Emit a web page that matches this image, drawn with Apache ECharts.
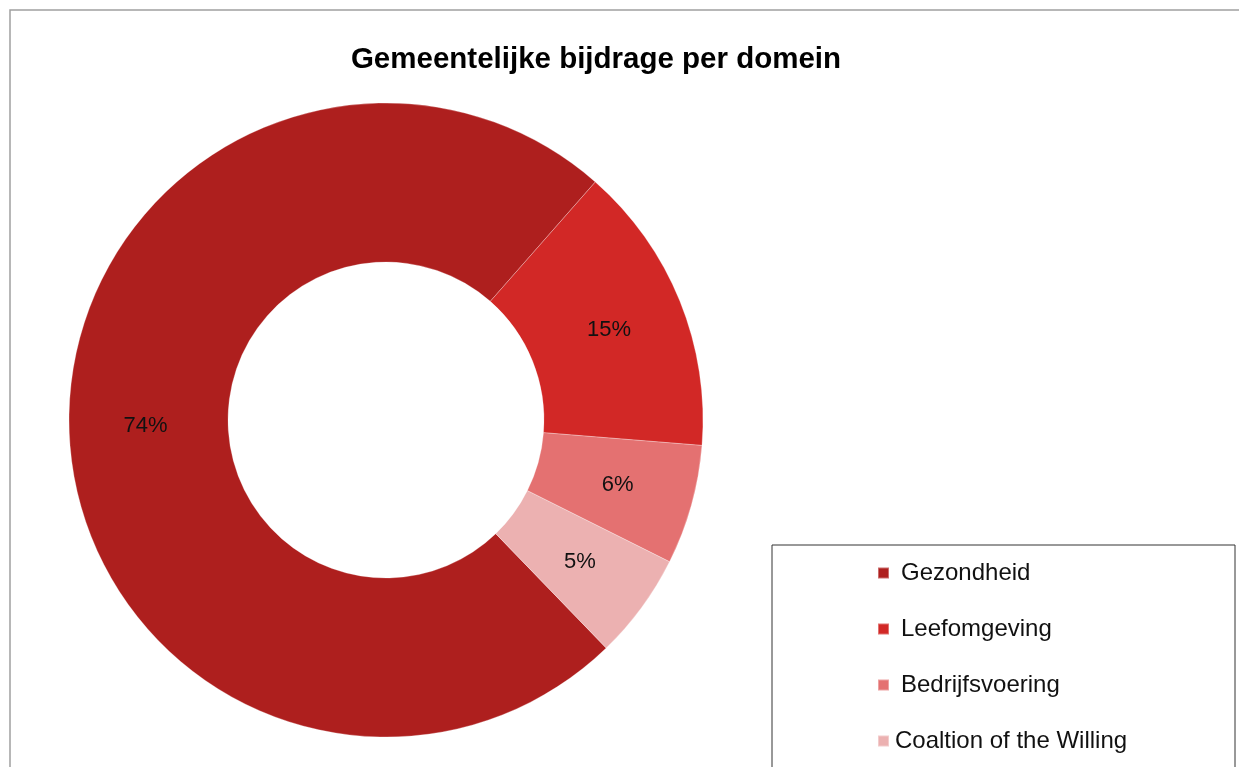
<!DOCTYPE html>
<html>
<head>
<meta charset="utf-8">
<title>Gemeentelijke bijdrage per domein</title>
<script src="https://cdn.jsdelivr.net/npm/echarts@6/dist/echarts.min.js"></script>
<style>
  html, body { margin: 0; padding: 0; background: #fff; }
  #chart { width: 1239px; height: 767px; }
</style>
</head>
<body>
<div id="chart"></div>
<script>
// Data
const domains = ['Gezondheid', 'Leefomgeving', 'Bedrijfsvoering', 'Coaltion of the Willing'];
const shares = [73.7, 14.8, 6.1, 5.4];
const colors = ['#ae1f1e', '#d22826', '#e47171', '#ecb1b1'];
const titleText = 'Gemeentelijke bijdrage per domein';

const chart = echarts.init(document.getElementById('chart'));
const total = shares.reduce((a, b) => a + b, 0);

chart.setOption({
  animation: false,
  backgroundColor: '#fff',
  title: {
    text: titleText,
    left: 591,
    top: 40,
    textAlign: 'center',
    textStyle: { fontFamily: 'Liberation Sans, Arial, sans-serif', fontSize: 29.5, fontWeight: 'bold', color: '#000' }
  },
  legend: {
    orient: 'vertical',
    left: 877,
    top: 561,
    padding: 0,
    itemWidth: 11,
    itemHeight: 11,
    itemGap: 32,
    icon: 'rect',
    textStyle: { fontFamily: 'Liberation Sans, Arial, sans-serif', fontSize: 24, color: '#111', lineHeight: 24 },
    data: domains.map((d, i) => ({
      name: d,
      textStyle: { padding: [0, 0, 0, i === domains.length - 1 ? 1 : 7] }
    }))
  },
  graphic: [
    { type: 'rect', silent: true, z: -1, shape: { x: 10, y: 10, width: 1250, height: 780 },
      style: { fill: null, stroke: '#a0a0a0', lineWidth: 1.5 } },
    { type: 'rect', silent: true, shape: { x: 772, y: 545, width: 463, height: 260 },
      style: { fill: '#fff', stroke: '#333', lineWidth: 1 } }
  ],
  series: [{
    type: 'pie',
    center: [386, 420],
    radius: [158, 317],
    startAngle: -46,
    clockwise: true,
    avoidLabelOverlap: false,
    color: colors,
    itemStyle: { borderColor: 'rgba(255,255,255,0.35)', borderWidth: 0.8 },
    label: {
      position: 'inside',
      formatter: p => Math.round(p.value / total * 100) + '%',
      fontFamily: 'Liberation Sans, Arial, sans-serif',
      fontSize: 22,
      color: '#111'
    },
    labelLine: { show: false },
    emphasis: { disabled: true },
    data: domains.map((d, i) => ({ name: d, value: shares[i] }))
  }]
});
</script>
</body>
</html>
